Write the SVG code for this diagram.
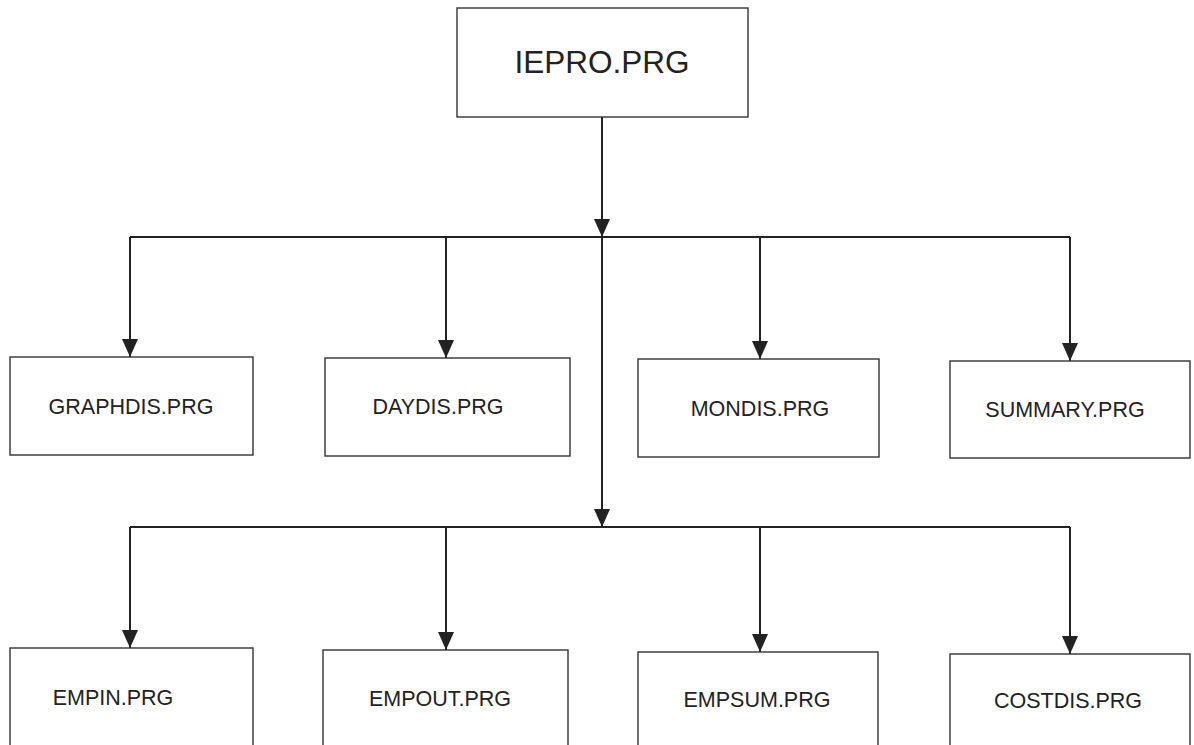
<svg xmlns="http://www.w3.org/2000/svg" width="1194" height="745" viewBox="0 0 1194 745">
<style>
.box{fill:#fff;stroke:#333;stroke-width:1.4}
.lbl{font-family:"Liberation Sans",Arial,sans-serif;font-size:21.5px;fill:#222;text-anchor:middle}
.big{font-size:31.5px}
.con{fill:none;stroke:#222;stroke-width:2}
</style>
<defs>
<marker id="ah" viewBox="0 0 18 16" refX="18" refY="8" markerWidth="18" markerHeight="16" markerUnits="userSpaceOnUse" orient="auto">
<path d="M0,0 L18,8 L0,16 Z" fill="#222"/>
</marker>
</defs>
<rect width="1194" height="745" fill="#fff"/>
<g id="connectors">
<path class="con" d="M602,117 V237" marker-end="url(#ah)"/>
<path class="con" d="M130,237 H1070"/>
<path class="con" d="M130,237 V357" marker-end="url(#ah)"/>
<path class="con" d="M446,237 V358" marker-end="url(#ah)"/>
<path class="con" d="M760,237 V359" marker-end="url(#ah)"/>
<path class="con" d="M1070,237 V361" marker-end="url(#ah)"/>
<path class="con" d="M602,237 V527" marker-end="url(#ah)"/>
<path class="con" d="M130,527 H1070"/>
<path class="con" d="M130,527 V648" marker-end="url(#ah)"/>
<path class="con" d="M446,527 V650" marker-end="url(#ah)"/>
<path class="con" d="M760,527 V652" marker-end="url(#ah)"/>
<path class="con" d="M1070,527 V654" marker-end="url(#ah)"/>
</g>
<g id="iepro"><rect class="box" x="457" y="8" width="291" height="109"/><text class="lbl big" x="602" y="73">IEPRO.PRG</text></g>
<g id="graphdis"><rect class="box" x="10" y="357" width="243" height="98"/><text class="lbl" x="131" y="414">GRAPHDIS.PRG</text></g>
<g id="daydis"><rect class="box" x="325" y="358" width="245" height="98"/><text class="lbl" x="438" y="414">DAYDIS.PRG</text></g>
<g id="mondis"><rect class="box" x="638" y="359" width="241" height="98"/><text class="lbl" x="760" y="416">MONDIS.PRG</text></g>
<g id="summary"><rect class="box" x="950" y="361" width="240" height="97"/><text class="lbl" x="1065" y="417">SUMMARY.PRG</text></g>
<g id="empin"><rect class="box" x="10" y="648" width="243" height="110"/><text class="lbl" x="113" y="705">EMPIN.PRG</text></g>
<g id="empout"><rect class="box" x="323" y="650" width="245" height="110"/><text class="lbl" x="440" y="706">EMPOUT.PRG</text></g>
<g id="empsum"><rect class="box" x="638" y="652" width="240" height="110"/><text class="lbl" x="757" y="707">EMPSUM.PRG</text></g>
<g id="costdis"><rect class="box" x="950" y="654" width="240" height="110"/><text class="lbl" x="1068" y="708">COSTDIS.PRG</text></g>
</svg>
